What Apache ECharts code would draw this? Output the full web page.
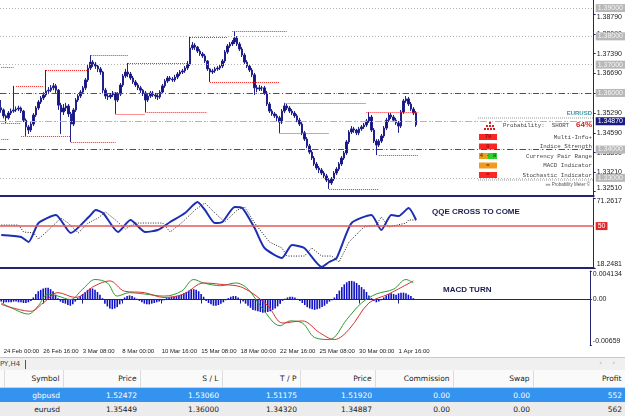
<!DOCTYPE html>
<html lang="en">
<head>
<meta charset="UTF-8">
<title>EURUSD H4</title>
<style>
  body { margin: 0; background: #fff; width: 625px; height: 416px; overflow: hidden; position: relative; font-family: "DejaVu Sans", sans-serif; }
  #chart { width: 625px; height: 357px; }
  #tabs { position: absolute; left: 0; top: 357px; width: 625px; height: 13px; background: #f0f0f0; border-top: 1px solid #c8c8c8; box-sizing: border-box; font-size: 7px; color: #444; }
  #tabs .t { position: absolute; left: 0; top: 2px; }
  #tabs .sep { position: absolute; left: 25px; top: 2px; width: 1px; height: 9px; background: #555; }
  #tabs .arr { position: absolute; right: 6px; top: 1px; color: #aaa; letter-spacing: 4px; }
  table { position: absolute; left: 0; top: 370px; width: 625px; border-collapse: collapse; table-layout: fixed; font-size: 7.5px; }
  td, th { text-align: right; padding: 0 3px 0 0; white-space: nowrap; overflow: hidden; }
  th { height: 17px; font-weight: normal; color: #222; background: #fafafa; border-right: 1px solid #dcdcdc; border-bottom: 1px solid #d0d0d0; }
  tr.sel td { background: #3393ee; color: #fff; height: 14px; }
  tr.row td { background: #ececec; color: #222; height: 14px; }
</style>
</head>
<body>
<div id="chart"></div>
<div id="tabs"><span class="t">PY,H4</span><span class="sep"></span><span class="arr">‹ ›</span></div>
<table id="trades"></table>

<script src="https://cdn.jsdelivr.net/npm/echarts@6/dist/echarts.min.js"></script>
<script>
// ---- data ----
const slotCount = 239 // bar slots incl. empty shift area on the right
const timeLabels = ['24 Feb 00:00', '26 Feb 16:00', '3 Mar 08:00', '8 Mar 00:00', '10 Mar 16:00',
  '15 Mar 08:00', '18 Mar 00:00', '22 Mar 16:00', '25 Mar 08:00', '30 Mar 00:00', '1 Apr 16:00']
const labelFirst = 1
const labelStep = 16

// [open, close, low, high]
const candles = [
  [1.3548,1.3540,1.3530,1.3575],[1.3540,1.3519,1.3510,1.3545],[1.3519,1.3512,1.3494,1.3524],[1.3512,1.3529,1.3506,1.3536],
  [1.3529,1.3536,1.3522,1.3545],[1.3536,1.3540,1.3530,1.3625],[1.3540,1.3543,1.3533,1.3552],[1.3543,1.3547,1.3536,1.3555],
  [1.3547,1.3536,1.3529,1.3552],[1.3536,1.3504,1.3497,1.3540],[1.3504,1.3480,1.3448,1.3510],[1.3480,1.3469,1.3455,1.3487],
  [1.3469,1.3490,1.3462,1.3497],[1.3490,1.3522,1.3483,1.3529],[1.3522,1.3547,1.3515,1.3554],[1.3547,1.3568,1.3540,1.3575],
  [1.3568,1.3582,1.3561,1.3589],[1.3582,1.3593,1.3575,1.3603],[1.3593,1.3607,1.3586,1.3681],[1.3607,1.3610,1.3596,1.3621],
  [1.3610,1.3618,1.3603,1.3628],[1.3618,1.3625,1.3610,1.3635],[1.3625,1.3610,1.3600,1.3632],[1.3610,1.3557,1.3540,1.3614],
  [1.3557,1.3533,1.3455,1.3565],[1.3533,1.3547,1.3522,1.3561],[1.3547,1.3554,1.3536,1.3565],[1.3554,1.3526,1.3515,1.3561],
  [1.3526,1.3490,1.3427,1.3533],[1.3490,1.3540,1.3483,1.3547],[1.3540,1.3575,1.3533,1.3582],[1.3575,1.3589,1.3568,1.3596],
  [1.3589,1.3603,1.3582,1.3610],[1.3603,1.3618,1.3596,1.3625],[1.3618,1.3646,1.3610,1.3653],[1.3646,1.3688,1.3639,1.3699],
  [1.3688,1.3709,1.3681,1.3734],[1.3709,1.3702,1.3692,1.3716],[1.3702,1.3695,1.3685,1.3709],[1.3695,1.3685,1.3674,1.3699],
  [1.3685,1.3674,1.3664,1.3692],[1.3674,1.3610,1.3600,1.3678],[1.3610,1.3589,1.3579,1.3618],[1.3589,1.3586,1.3575,1.3596],
  [1.3586,1.3593,1.3579,1.3600],[1.3593,1.3600,1.3586,1.3607],[1.3600,1.3575,1.3526,1.3603],[1.3575,1.3596,1.3568,1.3603],
  [1.3596,1.3628,1.3589,1.3635],[1.3628,1.3660,1.3621,1.3667],[1.3660,1.3674,1.3653,1.3685],[1.3674,1.3667,1.3656,1.3706],
  [1.3667,1.3653,1.3646,1.3674],[1.3653,1.3639,1.3632,1.3660],[1.3639,1.3628,1.3621,1.3646],[1.3628,1.3618,1.3610,1.3635],
  [1.3618,1.3610,1.3600,1.3625],[1.3610,1.3600,1.3589,1.3614],[1.3600,1.3575,1.3533,1.3607],[1.3575,1.3589,1.3568,1.3596],
  [1.3589,1.3600,1.3582,1.3607],[1.3600,1.3593,1.3586,1.3607],[1.3593,1.3589,1.3579,1.3600],[1.3589,1.3586,1.3575,1.3596],
  [1.3586,1.3603,1.3579,1.3610],[1.3603,1.3625,1.3596,1.3632],[1.3625,1.3642,1.3618,1.3649],[1.3642,1.3653,1.3635,1.3660],
  [1.3653,1.3649,1.3642,1.3660],[1.3649,1.3646,1.3639,1.3656],[1.3646,1.3656,1.3639,1.3664],[1.3656,1.3667,1.3649,1.3674],
  [1.3667,1.3674,1.3660,1.3681],[1.3674,1.3678,1.3667,1.3685],[1.3678,1.3688,1.3671,1.3695],[1.3688,1.3702,1.3681,1.3713],
  [1.3702,1.3759,1.3695,1.3798],[1.3759,1.3769,1.3752,1.3780],[1.3769,1.3762,1.3752,1.3776],[1.3762,1.3748,1.3741,1.3766],
  [1.3748,1.3738,1.3731,1.3755],[1.3738,1.3731,1.3724,1.3745],[1.3731,1.3713,1.3706,1.3738],[1.3713,1.3685,1.3678,1.3716],
  [1.3685,1.3674,1.3639,1.3688],[1.3674,1.3678,1.3667,1.3685],[1.3678,1.3685,1.3671,1.3692],[1.3685,1.3688,1.3678,1.3695],
  [1.3688,1.3695,1.3681,1.3702],[1.3695,1.3713,1.3688,1.3720],[1.3713,1.3745,1.3706,1.3752],[1.3745,1.3766,1.3738,1.3773],
  [1.3766,1.3773,1.3759,1.3780],[1.3773,1.3780,1.3766,1.3787],[1.3780,1.3794,1.3773,1.3819],[1.3794,1.3773,1.3766,1.3801],
  [1.3773,1.3755,1.3748,1.3780],[1.3755,1.3734,1.3727,1.3762],[1.3734,1.3709,1.3702,1.3741],[1.3709,1.3695,1.3688,1.3716],
  [1.3695,1.3681,1.3674,1.3702],[1.3681,1.3664,1.3656,1.3688],[1.3664,1.3618,1.3593,1.3671],[1.3618,1.3614,1.3603,1.3628],
  [1.3614,1.3618,1.3607,1.3628],[1.3618,1.3618,1.3607,1.3625],[1.3618,1.3600,1.3593,1.3625],[1.3600,1.3561,1.3554,1.3607],
  [1.3561,1.3536,1.3529,1.3568],[1.3536,1.3526,1.3519,1.3543],[1.3526,1.3519,1.3512,1.3533],[1.3519,1.3512,1.3501,1.3526],
  [1.3512,1.3497,1.3459,1.3519],[1.3497,1.3536,1.3490,1.3543],[1.3536,1.3554,1.3529,1.3565],[1.3554,1.3547,1.3540,1.3561],
  [1.3547,1.3536,1.3529,1.3554],[1.3536,1.3529,1.3522,1.3543],[1.3529,1.3519,1.3512,1.3536],[1.3519,1.3504,1.3497,1.3526],
  [1.3504,1.3490,1.3483,1.3512],[1.3490,1.3459,1.3451,1.3497],[1.3459,1.3437,1.3430,1.3466],[1.3437,1.3413,1.3405,1.3444],
  [1.3413,1.3391,1.3384,1.3420],[1.3391,1.3370,1.3363,1.3398],[1.3370,1.3349,1.3342,1.3377],[1.3349,1.3335,1.3328,1.3356],
  [1.3335,1.3328,1.3317,1.3342],[1.3328,1.3317,1.3310,1.3335],[1.3317,1.3307,1.3299,1.3324],[1.3307,1.3292,1.3285,1.3314],
  [1.3292,1.3282,1.3261,1.3299],[1.3282,1.3296,1.3275,1.3303],[1.3296,1.3317,1.3289,1.3324],[1.3317,1.3331,1.3310,1.3338],
  [1.3331,1.3349,1.3324,1.3356],[1.3349,1.3370,1.3342,1.3377],[1.3370,1.3388,1.3363,1.3395],[1.3388,1.3427,1.3381,1.3434],
  [1.3427,1.3462,1.3420,1.3469],[1.3462,1.3473,1.3455,1.3483],[1.3473,1.3469,1.3459,1.3480],[1.3469,1.3459,1.3451,1.3473],
  [1.3459,1.3473,1.3451,1.3480],[1.3473,1.3480,1.3466,1.3487],[1.3480,1.3487,1.3473,1.3494],[1.3487,1.3501,1.3480,1.3508],
  [1.3501,1.3515,1.3494,1.3533],[1.3515,1.3469,1.3462,1.3522],[1.3469,1.3430,1.3423,1.3476],[1.3430,1.3416,1.3380,1.3437],
  [1.3416,1.3430,1.3409,1.3437],[1.3430,1.3448,1.3423,1.3455],[1.3448,1.3476,1.3441,1.3483],[1.3476,1.3504,1.3469,1.3512],
  [1.3504,1.3522,1.3497,1.3529],[1.3522,1.3515,1.3508,1.3529],[1.3515,1.3504,1.3497,1.3522],[1.3504,1.3494,1.3487,1.3512],
  [1.3494,1.3483,1.3459,1.3501],[1.3483,1.3533,1.3476,1.3540],[1.3533,1.3572,1.3526,1.3579],[1.3572,1.3579,1.3565,1.3589],
  [1.3579,1.3561,1.3554,1.3586],[1.3561,1.3543,1.3536,1.3568],[1.3543,1.3529,1.3522,1.3550],[1.3529,1.3487,1.3480,1.3536]
]

const priceTicks = [1.32510, 1.33210, 1.33890, 1.34590, 1.35290, 1.35990, 1.36690, 1.37390, 1.38090, 1.38790]
const roundLevels = [1.39, 1.38, 1.37, 1.36, 1.35, 1.34, 1.33]
const stopLoss = 1.36000
const takeProfit = 1.34320
const openPrice = 1.35449
const lastPrice = 1.34870

// fractal support / resistance segments: [fromBar, toBar, price]
const fractalLevels = [
  [0, 5, 1.3692], [6, 17, 1.3625], [18, 35, 1.3681], [36, 51, 1.3734], [51, 75, 1.3706],
  [76, 91, 1.3798], [93, 115, 1.3819], [84, 112, 1.3639], [0, 8, 1.3494], [8, 28, 1.3448],
  [28, 46, 1.3427], [46, 58, 1.3526], [58, 83, 1.3533], [112, 132, 1.3459], [114, 147, 1.3565],
  [0, 3, 1.3437], [132, 152, 1.3261], [147, 168, 1.3533], [152, 168, 1.3380]
]

// QQE: [bar, value]
const qqeFast = [[0,43.2],[8,41.7],[11,37.9],[15,52.3],[22,58.4],[28,44.8],[36,58.4],[38,62.2],[41,59.9],
  [47,45.5],[52,54.6],[58,45.5],[63,47.0],[68,53.1],[74,59.9],[79,68.2],[82,62.2],[86,52.3],[89,53.1],
  [94,64.4],[97,63.7],[102,48.5],[106,33.4],[113,25.8],[117,35.7],[122,33.4],[129,19.0],[132,22.8],
  [135,25.8],[141,52.3],[149,58.4],[153,47.0],[157,58.4],[160,57.6],[164,63.7],[167,54.6]]
const qqeSlow = [[0,50.8],[7,50.8],[9,45.5],[13,44.8],[15,40.2],[19,47.0],[24,56.1],[27,52.3],[31,44.8],
  [35,52.3],[39,56.1],[42,60.7],[46,54.6],[50,47.8],[54,52.3],[65,52.3],[68,45.5],[73,53.1],[78,62.2],
  [82,67.5],[86,59.9],[90,53.1],[95,62.2],[98,64.4],[102,52.3],[108,37.9],[113,33.4],[115,27.3],
  [122,27.3],[125,33.4],[129,27.3],[133,27.3],[136,22.8],[140,37.9],[146,49.3],[151,50.8],[153,56.9],
  [156,49.3],[163,52.3],[164,54.6],[167,54.6]]
const qqeMin = 18.2481
const qqeMax = 71.2617

// MACD
const macdHist = [
  -0.0003,-0.0004,-0.0004,-0.0004,-0.0004,-0.0003,-0.0003,-0.0004,-0.0004,-0.0005,-0.0005,-0.0004,-0.0002,
  0.0003,0.0008,0.0012,0.0014,0.0016,0.0017,0.0017,0.0015,0.0012,0.0007,0.0002,
  -0.0003,-0.0005,-0.0006,-0.0008,-0.0009,-0.0007,-0.0003,
  0.0002,0.0005,0.0008,0.0011,0.0014,0.0016,0.0016,0.0014,0.0011,0.0007,0.0002,
  -0.0006,-0.0010,-0.0013,-0.0014,-0.0013,-0.0011,-0.0007,-0.0002,
  0.0003,0.0005,0.0006,0.0005,0.0003,0.0001,
  -0.0002,-0.0004,-0.0006,-0.0007,-0.0007,-0.0006,-0.0005,-0.0004,-0.0003,-0.0002,-0.0001,
  0.0002,0.0003,0.0004,0.0004,0.0005,0.0006,0.0007,0.0009,0.0011,0.0013,0.0015,0.0015,0.0014,0.0012,0.0008,0.0004,
  -0.0002,-0.0005,-0.0007,-0.0009,-0.0009,-0.0008,-0.0006,-0.0004,-0.0001,0.0002,0.0004,
  0.0005,0.0005,0.0003,0.0001,
  -0.0003,-0.0006,-0.0009,-0.0012,-0.0015,-0.0016,-0.0017,-0.0018,-0.0019,-0.0019,-0.0018,-0.0017,-0.0015,-0.0013,-0.0010,-0.0006,-0.0002,
  0.0001,0.0003,0.0004,0.0004,0.0003,0.0001,-0.0002,
  -0.0005,-0.0008,-0.0011,-0.0013,-0.0014,-0.0015,-0.0014,-0.0013,-0.0011,-0.0009,-0.0006,-0.0003,-0.0001,
  0.0003,0.0008,0.0013,0.0018,0.0022,0.0025,0.0027,0.0027,0.0026,0.0024,0.0021,0.0018,0.0015,0.0011,0.0006,0.0002,
  -0.0002,-0.0004,-0.0003,-0.0001,
  0.0003,0.0006,0.0008,0.0009,0.0008,0.0007,0.0009,0.0010,0.0010,0.0009,0.0007,0.0005,0.0002
]
const macdMain = [[0,-0.0005],[4,-0.0012],[11,-0.0021],[15,-0.0009],[19,0.0008],[23,0.0005],[28,0.0000],
  [33,0.0015],[38,0.0029],[43,0.0024],[47,0.0005],[52,0.0010],[58,0.0008],[66,0.0005],[73,0.0012],
  [78,0.0029],[82,0.0024],[89,0.0020],[95,0.0024],[100,0.0015],[106,-0.0014],[113,-0.0038],[117,-0.0031],
  [122,-0.0034],[127,-0.0055],[133,-0.0058],[140,-0.0029],[146,-0.0005],[152,0.0008],[159,0.0015],
  [164,0.0029],[167,0.0024]]
const macdSignal = [[0,-0.0007],[12,-0.0017],[17,-0.0005],[23,0.0010],[30,0.0003],[38,0.0020],[44,0.0027],
  [50,0.0012],[58,0.0010],[66,0.0003],[74,0.0008],[82,0.0024],[89,0.0022],[98,0.0017],[108,-0.0009],
  [114,-0.0034],[122,-0.0031],[129,-0.0048],[135,-0.0058],[141,-0.0043],[149,-0.0005],[157,0.0008],[167,0.0027]]
const macdMin = -0.00659
const macdMax = 0.004134

// probability meter panel
const meterRows = [
  { badge: '78', fill: '#ff2424', label: 'Multi-Info+' },
  { badge: '0', fill: '#ff2424', label: 'Indice Strength' },
  { badge: '4 - 8', fill: 'split', label: 'Currency Pair Range' },
  { badge: '=', fill: '#f39a1c', label: 'MACD Indicator' },
  { badge: '=', fill: '#ff2424', label: 'Stochastic Indicator' }
]

// trade table
const tradeHeaders = ['', 'Symbol', 'Price', 'S / L', 'T / P', 'Price', 'Commission', 'Swap', 'Profit']
const trades = [
  ['', 'gbpusd', '1.52472', '1.53060', '1.51175', '1.51920', '0.00', '0.00', '552'],
  ['', 'eurusd', '1.35449', '1.36000', '1.34320', '1.34887', '0.00', '0.00', '562']
]
const colWidths = [4, 59, 77, 82, 78, 75, 78, 80, 92]

// ---- table ----
const tbl = document.getElementById('trades')
let html = '<colgroup>' + colWidths.map(w => `<col style="width:${w}px">`).join('') + '</colgroup>'
html += '<tr>' + tradeHeaders.map(h => `<th>${h}</th>`).join('') + '</tr>'
trades.forEach((r, i) => {
  html += `<tr class="${i === 0 ? 'sel' : 'row'}">` + r.map(c => `<td>${c}</td>`).join('') + '</tr>'
})
tbl.innerHTML = html

// ---- chart ----
const navy = '#23236e'
const slots = Array.from({ length: slotCount }, (_, i) => String(i))
const isLabelSlot = i => i >= labelFirst && (i - labelFirst) % labelStep === 0 && (i - labelFirst) / labelStep < timeLabels.length
const axisFont = { fontFamily: 'Liberation Sans', fontSize: 7, color: '#222' }

function xAxisFor(gi, showLabels) {
  return {
    type: 'category', gridIndex: gi, data: slots, boundaryGap: true,
    axisLine: { lineStyle: { color: navy, width: showLabels ? 1 : 2 } },
    axisTick: { show: showLabels, alignWithLabel: true, length: 4, interval: i => isLabelSlot(i), lineStyle: { color: navy } },
    axisLabel: {
      show: showLabels, interval: i => isLabelSlot(i), align: 'left', margin: 3,
      fontFamily: 'Liberation Sans', fontSize: 6, color: '#222',
      formatter: (v, i) => isLabelSlot(i) ? timeLabels[(i - labelFirst) / labelStep] : ''
    },
    splitLine: { show: false }
  }
}

function yAxisFor(gi, min, max, ticks, fmt) {
  return {
    type: 'value', gridIndex: gi, position: 'right', min: min, max: max,
    axisLine: { show: true, lineStyle: { color: navy } },
    axisTick: { show: true, length: 2, customValues: ticks, lineStyle: { color: navy } },
    axisLabel: Object.assign({ customValues: ticks, margin: 3, formatter: fmt, verticalAlignMinLabel: 'bottom', verticalAlignMaxLabel: 'top' }, axisFont),
    splitLine: { show: false }
  }
}

const boxLabel = (bg, fg, text) => ({
  show: true, position: 'end', distance: 2, formatter: text, backgroundColor: bg, color: fg,
  fontFamily: 'Liberation Sans', fontSize: 7, padding: [1, 2, 0, 2]
})

const priceMarks = []
roundLevels.forEach(v => priceMarks.push({
  yAxis: v, lineStyle: { color: '#b4b4b4', type: [1, 2], width: 1 },
  label: v === 1.35 ? { show: false } : boxLabel('#b8b8b8', '#f4f4f4', v.toFixed(5))
}))
priceMarks.push({ yAxis: stopLoss, lineStyle: { color: '#c41e1e', type: [6, 3, 1, 3], width: 1 }, label: { show: false } })
priceMarks.push({ yAxis: takeProfit, lineStyle: { color: '#c41e1e', type: [6, 3, 1, 3], width: 1 }, label: { show: false } })
priceMarks.push({ yAxis: openPrice, lineStyle: { color: '#8fd08f', type: [6, 4, 1, 4], width: 1 }, label: { show: false } })
fractalLevels.forEach(([a, b, p]) => priceMarks.push([
  { coord: [a, p], lineStyle: { color: '#ff2222', type: [1, 1], width: 1 }, label: { show: false } },
  { coord: [b, p] }
]))
// current bid box on the price scale
priceMarks.push({ yAxis: lastPrice, lineStyle: { color: 'rgba(0,0,0,0)', width: 0 }, label: boxLabel('#1b1b86', '#ffffff', lastPrice.toFixed(5)) })

const meterX = 479, meterR = 592
const meterGraphics = [
  { type: 'text', x: meterR, y: 113, style: { text: 'EURUSD', font: 'bold 6px "Liberation Sans"', fill: '#3f93a3', align: 'right', verticalAlign: 'middle' } },
  { type: 'line', shape: { x1: 478, y1: 118, x2: 594, y2: 118 }, style: { stroke: '#9a9a9a', lineDash: [1, 1] } },
  { type: 'text', x: 503, y: 125, style: { text: 'Probability:  SHORT', font: '5.8px "Liberation Mono"', fill: '#444', verticalAlign: 'middle' } },
  { type: 'text', x: meterR, y: 125, style: { text: '64%', font: 'bold 8px "Liberation Sans"', fill: '#cf2020', align: 'right', verticalAlign: 'middle' } },
  { type: 'line', shape: { x1: 478, y1: 180, x2: 594, y2: 180 }, style: { stroke: '#9a9a9a', lineDash: [1, 1] } },
  { type: 'text', x: meterR - 2, y: 185, style: { text: '»» Probability Meter ©', font: '4.5px "Liberation Sans"', fill: '#555', align: 'right', verticalAlign: 'middle' } }
]
// little pyramid icon
;[[489, 122], [486, 125], [489, 125], [492, 125], [484, 128], [487, 128], [490, 128], [493, 128]].forEach(([x, y]) =>
  meterGraphics.push({ type: 'rect', shape: { x: x, y: y, width: 2, height: 2 }, style: { fill: '#d42020' } }))
meterRows.forEach((r, k) => {
  const cy = 137 + k * 9.5
  if (r.fill === 'split') {
    meterGraphics.push({ type: 'rect', shape: { x: meterX, y: cy - 3, width: 9, height: 6 }, style: { fill: '#e8a21a' } })
    meterGraphics.push({ type: 'rect', shape: { x: meterX + 9, y: cy - 3, width: 9, height: 6 }, style: { fill: '#2ed02e' } })
  } else {
    meterGraphics.push({ type: 'rect', shape: { x: meterX, y: cy - 3, width: 18, height: 6 }, style: { fill: r.fill } })
  }
  meterGraphics.push({ type: 'text', x: meterX + 9, y: cy, style: { text: r.badge, font: '5.5px "Liberation Mono"', fill: '#5a1010', align: 'center', verticalAlign: 'middle' } })
  meterGraphics.push({ type: 'text', x: meterR, y: cy, style: { text: r.label, font: '5.8px "Liberation Mono"', fill: '#444', align: 'right', verticalAlign: 'middle' } })
})

const noteFont = 'bold 8px "Liberation Sans"'
const option = {
  animation: false,
  backgroundColor: '#fff',
  grid: [
    { left: 0, right: 25, top: 0, height: 196 },
    { left: 0, right: 25, top: 198, height: 70 },
    { left: 0, right: 25, top: 271, height: 74 }
  ],
  xAxis: [xAxisFor(0, false), xAxisFor(1, false), xAxisFor(2, true)],
  yAxis: [
    yAxisFor(0, 1.32359, 1.39285, priceTicks, v => v.toFixed(5)),
    yAxisFor(1, qqeMin, qqeMax, [qqeMin, qqeMax], v => v.toFixed(4)),
    yAxisFor(2, macdMin, macdMax, [macdMin, 0, macdMax], v => v === 0 ? '0.00' : v === macdMax ? v.toFixed(6) : v.toFixed(5))
  ],
  series: [
    {
      type: 'candlestick', xAxisIndex: 0, yAxisIndex: 0, data: candles, barWidth: 2,
      itemStyle: { color: '#14147a', color0: '#14147a', borderColor: '#20208a', borderColor0: '#20208a', borderWidth: 1 },
      markLine: { symbol: 'none', silent: true, z: 3, data: priceMarks }
    },
    {
      type: 'line', xAxisIndex: 1, yAxisIndex: 1, data: qqeSlow, symbol: 'none',
      lineStyle: { color: '#222', width: 1, type: [1, 1.5] }, z: 3
    },
    {
      type: 'line', xAxisIndex: 1, yAxisIndex: 1, data: qqeFast, symbol: 'none', smooth: 0.2,
      lineStyle: { color: '#1c2fb4', width: 2 }, z: 4,
      markLine: {
        symbol: 'none', silent: true,
        data: [{ yAxis: 50, lineStyle: { color: '#e25a5a', width: 1.5, type: 'solid' }, label: boxLabel('#e02828', '#fff', '50') }]
      }
    },
    {
      type: 'bar', xAxisIndex: 2, yAxisIndex: 2, data: macdHist, barWidth: 1.6,
      itemStyle: { color: '#1010c4' }
    },
    {
      type: 'line', xAxisIndex: 2, yAxisIndex: 2, data: macdMain, symbol: 'none', smooth: 0.35,
      lineStyle: { color: '#2e9a34', width: 1 }
    },
    {
      type: 'line', xAxisIndex: 2, yAxisIndex: 2, data: macdSignal, symbol: 'none', smooth: 0.35,
      lineStyle: { color: '#d83030', width: 1 }
    }
  ],
  graphic: meterGraphics.concat([
    { type: 'text', x: 432, y: 212, style: { text: 'QQE CROSS TO COME', font: noteFont, fill: '#1c1c4e', verticalAlign: 'middle' } },
    { type: 'text', x: 443, y: 290, style: { text: 'MACD TURN', font: noteFont, fill: '#1c1c4e', verticalAlign: 'middle' } }
  ])
}

const myChart = echarts.init(document.getElementById('chart'))
myChart.setOption(option)
</script>
</body>
</html>
